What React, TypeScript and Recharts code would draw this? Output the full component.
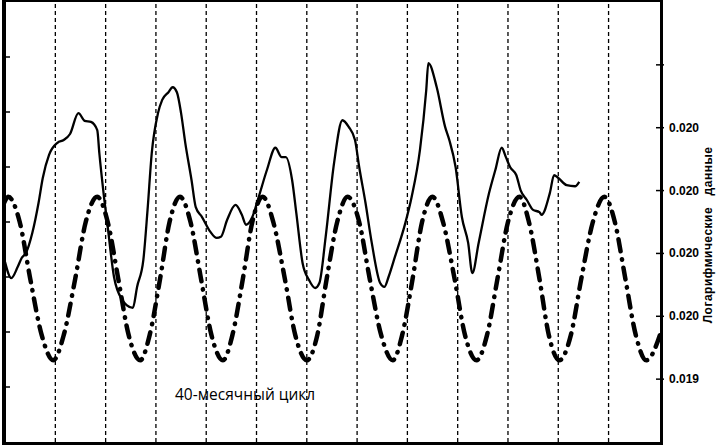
import { LineChart, Line, XAxis, YAxis, ReferenceLine } from "recharts";

// 40-month cycle (dash-dot), month -> log value
const cycleMonths = [
  -0.5, 1.5, 7, 12, 17.5, 23, 28, 33.5, 38.5, 44, 49, 54, 59, 64.5, 69, 74,
  78.5, 83.5, 88.5, 93.5, 98.5, 104, 108.5, 113.5, 118, 123, 128, 133.5, 138.5,
  144, 149, 153.5, 158.5, 163.5, 169, 174, 179.5, 185, 189.5, 194.5, 199, 204,
  209, 214.5, 219.5, 225, 230, 235, 240, 245.5, 250, 255, 259.5, 264.5, 270,
  275, 280.5, 286, 291, 296, 301, 306, 313.5,
];
const cycleValues = [
  0.01968,
  0.01969, 0.01965, 0.01956, 0.01947, 0.01943,
  0.01947, 0.01956, 0.01965, 0.01969,
  0.01965, 0.01956, 0.01947, 0.01943,
  0.01947, 0.01956, 0.01965, 0.01969,
  0.01965, 0.01956, 0.01947, 0.01943,
  0.01947, 0.01956, 0.01965, 0.01969,
  0.01965, 0.01956, 0.01947, 0.01943,
  0.01947, 0.01956, 0.01965, 0.01969,
  0.01965, 0.01956, 0.01947, 0.01943,
  0.01947, 0.01956, 0.01965, 0.01969,
  0.01965, 0.01956, 0.01947, 0.01943,
  0.01947, 0.01956, 0.01965, 0.01969,
  0.01965, 0.01956, 0.01947, 0.01943,
  0.01947, 0.01956, 0.01965, 0.01969,
  0.01965, 0.01956, 0.01947, 0.01943,
  0.01948,
];

// solid series (left scale, unlabelled)
const priceMonths = [
  0, 3, 6, 8, 10, 13, 16, 18, 21, 25, 28, 31, 35, 38, 41, 44, 45, 47, 49, 52,
  56, 58, 61, 63, 66, 68, 70, 73, 75, 78, 80, 82, 84, 86, 89, 91, 94, 98, 101,
  103, 106, 110, 113, 115, 118, 121, 125, 129, 132, 134, 137, 139, 142, 145,
  148, 150, 153, 157, 161, 164, 167, 169, 172, 175, 179, 181, 183, 186, 191,
  194, 198, 201, 202, 206, 210, 212, 215, 218, 221, 223, 226, 231, 234, 237,
  239, 241, 244, 246, 249, 252, 255, 256, 260, 262, 264, 268, 272, 274,
];
const priceValues = [
  3.27, 2.98, 3.18, 3.35, 3.44, 3.8, 4.35, 4.8, 5.22, 5.44, 5.49, 5.6, 5.98,
  5.84, 5.82, 5.67, 5.25, 4.53, 3.91, 3.0, 2.58, 2.49, 2.44, 2.82, 3.31, 4.22,
  5.25, 5.98, 6.22, 6.36, 6.45, 6.36, 5.98, 5.44, 4.76, 4.27, 4.09, 3.82, 3.71,
  3.73, 4.04, 4.31, 4.13, 3.95, 4.09, 4.45, 4.95, 5.35, 5.18, 5.18, 4.76, 4.16,
  3.25, 2.95, 2.8, 2.89, 3.73, 5.07, 5.85, 5.73, 5.49, 5.0, 4.35, 3.62, 2.89,
  2.82, 3.0, 3.36, 3.98, 4.45, 5.31, 6.4, 6.89, 6.45, 5.73, 5.49, 5.0, 4.09,
  3.62, 3.07, 3.62, 4.53, 4.95, 5.35, 5.18, 5.0, 4.85, 4.58, 4.4, 4.22, 4.18,
  4.13, 4.53, 4.85, 4.8, 4.67, 4.65, 4.73,
];

const gridMonths = [24, 48, 72, 96, 120, 144, 168, 192, 216, 240, 264, 288];
const rightTicks = [0.0194, 0.0195, 0.0196, 0.0197, 0.0198, 0.0199];
const rightTickLabels = ["0.019", "0.020", "0.020", "0.020", "0.020", ""];
const leftTicks = [1, 2, 3, 4, 5, 6, 7];

const cycleData = cycleMonths.map((m, i) => ({ month: m, value: cycleValues[i] }));
const priceData = priceMonths.map((m, i) => ({ month: m, value: priceValues[i] }));

const RightTick = (props: any) => {
  const { x, y, index } = props;
  return (
    <g>
      <line x1={x - 6} x2={x + 2} y1={y} y2={y} stroke="#000" strokeWidth={1.5} />
      <text
        x={x + 7}
        y={y}
        dy={4}
        fontSize={12}
        fontWeight="bold"
        fontFamily="Liberation Sans, Arial, sans-serif"
        fill="#000"
      >
        {rightTickLabels[index]}
      </text>
    </g>
  );
};

const LeftTick = (props: any) => {
  const { x, y } = props;
  return <line x1={x} x2={x + 6} y1={y} y2={y} stroke="#000" strokeWidth={1.5} />;
};

const AxisTitle = (props: any) => {
  const { x, y, width, height } = props.viewBox;
  const cx = x + width - 13;
  const cy = y + height / 2 + 13;
  return (
    <text
      x={cx}
      y={cy}
      transform={`rotate(-90 ${cx} ${cy})`}
      textAnchor="middle"
      fontSize={12}
      fontWeight="bold"
      fontFamily="Liberation Sans, Arial, sans-serif"
      letterSpacing={0.5}
      fill="#000"
      style={{ whiteSpace: "pre" }}
    >
      {"Логарифмические   данные"}
    </text>
  );
};

export default function App() {
  return (
    <div style={{ position: "absolute", left: 0, top: 0, width: 725, height: 447, background: "#fff" }}>
      <LineChart width={725} height={447} margin={{ top: 2, right: 0, bottom: 0, left: 3 }}>
        <XAxis
          type="number"
          dataKey="month"
          domain={[-0.5, 313.5]}
          allowDataOverflow
          height={5}
          tick={false}
          tickLine={false}
          axisLine={false}
        />
        <YAxis
          yAxisId="left"
          type="number"
          domain={[0, 8]}
          ticks={leftTicks}
          width={1}
          tickSize={0}
          tickMargin={0}
          tickLine={false}
          tick={<LeftTick />}
          axisLine={false}
        />
        <YAxis
          yAxisId="right"
          orientation="right"
          type="number"
          domain={[0.0193, 0.02]}
          allowDataOverflow
          ticks={rightTicks}
          width={63}
          tickSize={0}
          tickMargin={0}
          tickLine={false}
          tick={<RightTick />}
          axisLine={false}
          label={{ content: <AxisTitle /> }}
        />
        {gridMonths.map((m) => (
          <ReferenceLine
            key={m}
            x={m}
            yAxisId="right"
            stroke="#000"
            strokeWidth={1.3}
            strokeDasharray="4 3"
          />
        ))}
        <Line
          yAxisId="right"
          data={cycleData}
          dataKey="value"
          type="monotone"
          stroke="#000"
          strokeWidth={4.5}
          strokeDasharray="12 8 0.5 8"
          strokeLinecap="round"
          dot={false}
          isAnimationActive={false}
        />
        <Line
          yAxisId="left"
          data={priceData}
          dataKey="value"
          type="monotone"
          stroke="#000"
          strokeWidth={2.3}
          dot={false}
          isAnimationActive={false}
        />
      </LineChart>
      {/* plot frame */}
      <div
        style={{
          position: "absolute",
          left: 2,
          top: 0,
          width: 661,
          height: 445,
          boxSizing: "border-box",
          borderStyle: "solid",
          borderColor: "#000",
          borderWidth: "2px 3px 3px 4px",
          pointerEvents: "none",
        }}
      />
      <div
        style={{
          position: "absolute",
          left: 175,
          top: 387,
          fontFamily: "Open Sans, sans-serif",
          fontSize: 15.5,
          lineHeight: "15px",
          color: "#000",
          whiteSpace: "nowrap",
        }}
      >
        40-месячный цикл
      </div>
    </div>
  );
}
